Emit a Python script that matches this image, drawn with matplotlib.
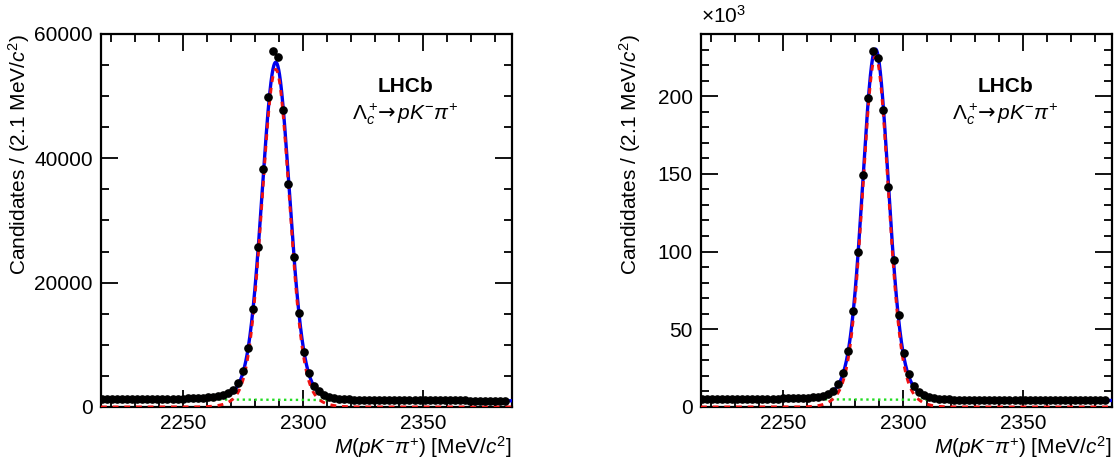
import numpy as np
import matplotlib
matplotlib.use("Agg")
import matplotlib.pyplot as plt
from matplotlib.ticker import MultipleLocator, FuncFormatter

plt.rcParams['font.family'] = ['Liberation Sans', 'DejaVu Sans']
plt.rcParams['mathtext.fontset'] = 'custom'
plt.rcParams['mathtext.rm'] = 'Liberation Sans'
plt.rcParams['mathtext.it'] = 'Liberation Sans:italic'
plt.rcParams['mathtext.bf'] = 'Liberation Sans:bold'
plt.rcParams['mathtext.sf'] = 'DejaVu Sans'

# ---------------- data ----------------
bin_start = 2216.2
bin_width = 2.1
n_bins = 81

counts_left = [
    1240, 1250, 1230, 1260, 1240, 1250, 1270, 1250, 1260, 1280,
    1270, 1290, 1300, 1290, 1320, 1340, 1360, 1380, 1420, 1460,
    1510, 1580, 1680, 1820, 2000, 2300,
    2700, 3810, 5790, 9440, 15810, 25780, 38330, 49820, 57270, 56250,
    47770, 35810, 24170, 15120, 8900, 5420, 3380, 2520,
    1850, 1560, 1420, 1330, 1270, 1230, 1200, 1180, 1170, 1160,
    1150, 1140, 1140, 1130, 1120, 1120, 1110, 1100, 1100, 1090,
    1090, 1080, 1080, 1070, 1070, 1060, 1060, 1050, 1050, 1040,
    1040, 1030, 1030, 1020, 1020, 1010, 1010,
]

counts_right = [  # in units of 10^3
    5.0, 5.0, 4.9, 5.0, 5.0, 5.0, 5.1, 5.0, 5.1, 5.1,
    5.1, 5.2, 5.2, 5.2, 5.3, 5.4, 5.5, 5.6, 5.8, 6.0,
    5.9, 6.0, 6.3, 6.7, 7.3, 8.3,
    10.5, 14.6, 22.1, 36.3, 61.5, 99.6, 149.2, 198.5, 228.8, 224.5,
    190.8, 141.3, 94.8, 58.9, 35.0, 21.3, 13.5, 9.9,
    7.6, 6.4, 5.7, 5.3, 5.0, 4.9, 4.8, 4.8, 4.7, 4.7,
    4.7, 4.6, 4.6, 4.6, 4.6, 4.5, 4.5, 4.5, 4.5, 4.4,
    4.4, 4.4, 4.4, 4.4, 4.3, 4.3, 4.3, 4.3, 4.3, 4.3,
    4.2, 4.2, 4.2, 4.2, 4.2, 4.2, 4.2,
]

# fit model parameters (double Gaussian signal + linear background)
fit_left = dict(mean=2288.6, a1=48300, s1=5.5, a2=6000, s2=9.5, b_lo=1280, b_hi=1000)
fit_right = dict(mean=2288.5, a1=190.0e3, s1=5.1, a2=35.5e3, s2=8.8, b_lo=5.2e3, b_hi=4.2e3)

x_lo, x_hi = 2215.8, 2387.0

# ---------------- figure ----------------
W, H = 1118, 459
fig = plt.figure(figsize=(W / 100, H / 100), dpi=100)


def px_axes(l, t, r, b):
    return fig.add_axes([l / W, 1 - b / H, (r - l) / W, (b - t) / H])


def model(x, p):
    sig = p['a1'] * np.exp(-0.5 * ((x - p['mean']) / p['s1']) ** 2) + \
          p['a2'] * np.exp(-0.5 * ((x - p['mean']) / p['s2']) ** 2)
    bkg = p['b_lo'] + (p['b_hi'] - p['b_lo']) * (x - x_lo) / (x_hi - x_lo)
    return sig, bkg


def draw(ax, y, p, ymax, major, minor, scale):
    centers = bin_start + bin_width * np.arange(n_bins)
    y = np.asarray(y, float) * scale
    xf = np.linspace(x_lo, x_hi, 1500)
    sig, bkg = model(xf, p)
    ax.plot(xf, bkg, color='#22dd22', ls=(0, (1, 1.5)), lw=1.7, zorder=2)
    ax.plot(xf, sig + bkg, color='#0000ee', lw=2.4, zorder=3)
    ax.plot(xf, sig, color='#ee1111', ls=(0, (2.0, 2.0)), lw=2.1, zorder=4)
    ax.errorbar(centers, y, yerr=np.sqrt(y), fmt='o', color='black', ms=5.2,
                elinewidth=1.2, capsize=0, zorder=5)
    ax.set_xlim(x_lo, x_hi)
    ax.set_ylim(0, ymax)
    ax.xaxis.set_major_locator(MultipleLocator(50))
    ax.xaxis.set_minor_locator(MultipleLocator(10))
    ax.yaxis.set_major_locator(MultipleLocator(major))
    ax.yaxis.set_minor_locator(MultipleLocator(minor))
    ax.tick_params(which='both', direction='in', top=True, right=True,
                   labelsize=15, width=1.3)
    ax.tick_params(axis='x', pad=5)
    ax.tick_params(axis='y', pad=6)
    ax.tick_params(which='major', length=12)
    ax.tick_params(which='minor', length=6)
    for s in ax.spines.values():
        s.set_linewidth(1.6)
    ax.set_xlabel(r'$M(pK^{-}\pi^{+})$ [MeV/$c^{2}$]', fontsize=15, loc='right')
    ax.xaxis.set_label_coords(1.0, -0.073)
    ax.xaxis.label.set_va('top')
    ax.set_ylabel(r'Candidates / (2.1 MeV/$c^{2}$)', fontsize=15, loc='top')
    ax.text(0.74, 0.86, 'LHCb', transform=ax.transAxes, fontsize=15,
            fontweight='bold', ha='center', va='center')
    ax.text(0.74, 0.785, r'$\mathit{Λ}_c^+\!\mathsf{→}\,pK^{-}\pi^{+}$',
            transform=ax.transAxes, fontsize=15, ha='center', va='center')


ax1 = px_axes(101, 34, 512, 407)
draw(ax1, counts_left, fit_left, 60000, 20000, 5000, 1.0)
ax1.yaxis.set_label_coords(-0.168, 1.0)

ax2 = px_axes(701, 34, 1112, 407)
draw(ax2, counts_right, fit_right, 240e3, 50e3, 10e3, 1000.0)
ax2.yaxis.set_major_formatter(FuncFormatter(lambda v, pos: f'{v / 1000:g}'))
ax2.yaxis.set_label_coords(-0.14, 1.0)
ax2.text(0.0, 1.03, r'$\times10^{3}$', transform=ax2.transAxes, fontsize=15,
         ha='left', va='baseline')

fig.savefig('out.png', dpi=100)
